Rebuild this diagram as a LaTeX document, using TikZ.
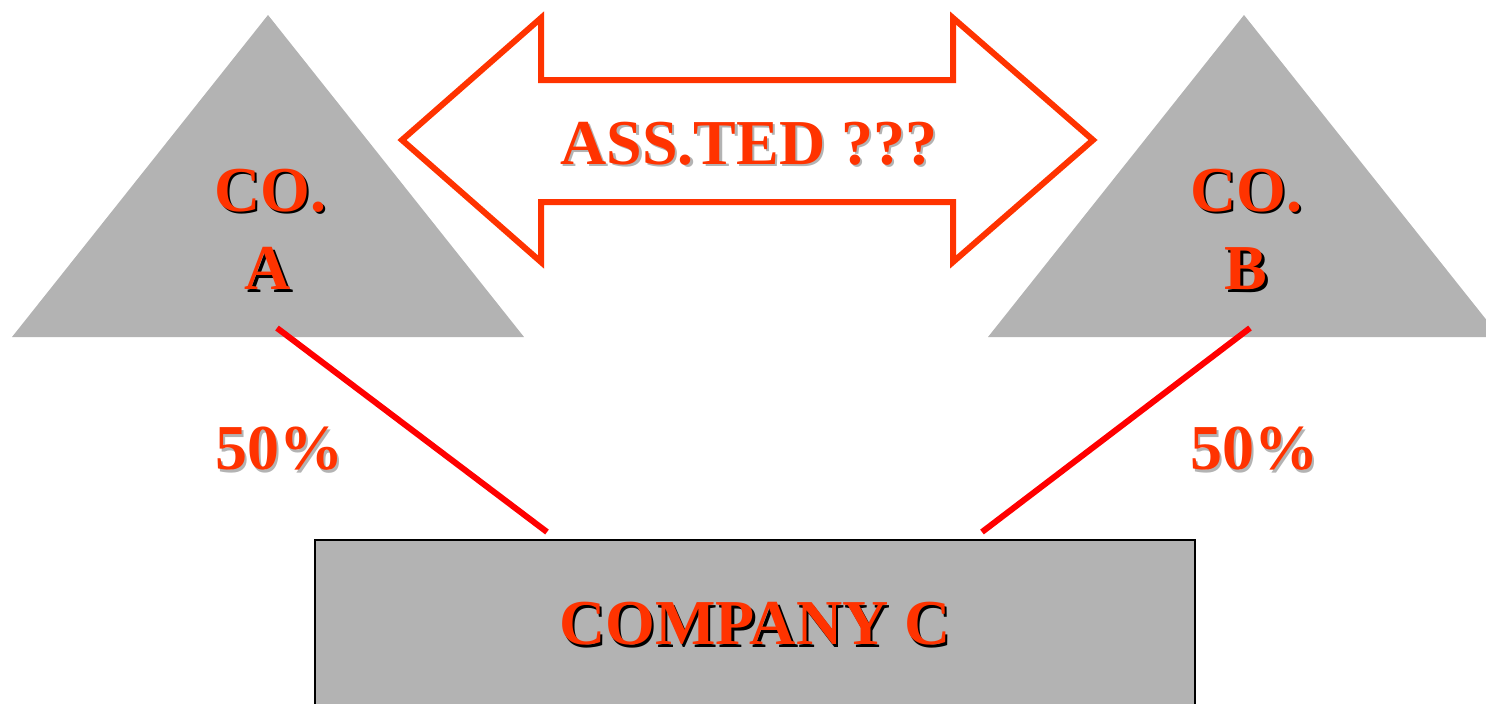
\documentclass[tikz,border=0pt]{standalone}
\usepackage{fontspec}
\setmainfont{Liberation Serif}
\usepackage{xcolor}
\usepackage{tikz}
\usetikzlibrary{positioning, calc}
\definecolor{myorange}{RGB}{255,51,0}
\definecolor{myred}{RGB}{255,0,0}
\definecolor{mygray}{RGB}{179,179,179}
\definecolor{mydark}{RGB}{0,0,0}
% text with a small drop shadow
\newcommand{\shadowed}[2]{%
  \makebox[0pt][l]{\hspace{1.2pt}\raisebox{-1.2pt}{\color{#1}#2}}{\color{myorange}#2}}
\tikzset{
  lbl/.style={font=\fontsize{32}{36}\selectfont\bfseries, inner sep=0pt, align=center},
  triblock/.style={fill=mygray, draw=none},
  coblock/.style={fill=mygray, draw=mydark, line width=1pt},
  dblarrow/.style={draw=myorange, fill=white, line width=3pt, miter limit=10},
  share/.style={draw=myred, line width=3pt}
}
\begin{document}
\begin{tikzpicture}[x=0.5pt, y=-0.5pt]
  \useasboundingbox (0,0) rectangle (1486,703);
  % Company A
  \fill[triblock] (12,337) -- (268,15) -- (524,337) -- cycle;
  \node[lbl] (coA) at (270,192) {\shadowed{mydark}{CO.}};
  \node[lbl] (nameA) at (268,270) {\shadowed{mydark}{A}};
  % Company B
  \fill[triblock] (988,337) -- (1244,15) -- (1500,337) -- cycle;
  \node[lbl] (coB) at (1246,192) {\shadowed{mydark}{CO.}};
  \node[lbl] (nameB) at (1246,270) {\shadowed{mydark}{B}};
  % Associated ?
  \draw[dblarrow] (402,140) -- (541,18) -- (541,80) -- (953,80) -- (953,18)
    -- (1093,140) -- (953,262) -- (953,202) -- (541,202) -- (541,262) -- cycle;
  \node[lbl] (assoc) at (749,145) {\shadowed{mygray}{ASS.TED ???}};
  % Company C
  \draw[coblock] (315,540) rectangle (1195,720);
  \node[lbl] (coC) at (755,625) {\shadowed{mydark}{COMPANY C}};
  % Shareholdings
  \coordinate (footA) at (277,328);
  \coordinate (footB) at (1250,328);
  \coordinate (topCl) at (547,532);
  \coordinate (topCr) at (982,532);
  \draw[share] (footA) -- (topCl);
  \draw[share] (footB) -- (topCr);
  \node[lbl] (shareA) at (279,450) {\shadowed{mygray}{50\%}};
  \node[lbl] (shareB) at (1254,450) {\shadowed{mygray}{50\%}};
\end{tikzpicture}
\end{document}
